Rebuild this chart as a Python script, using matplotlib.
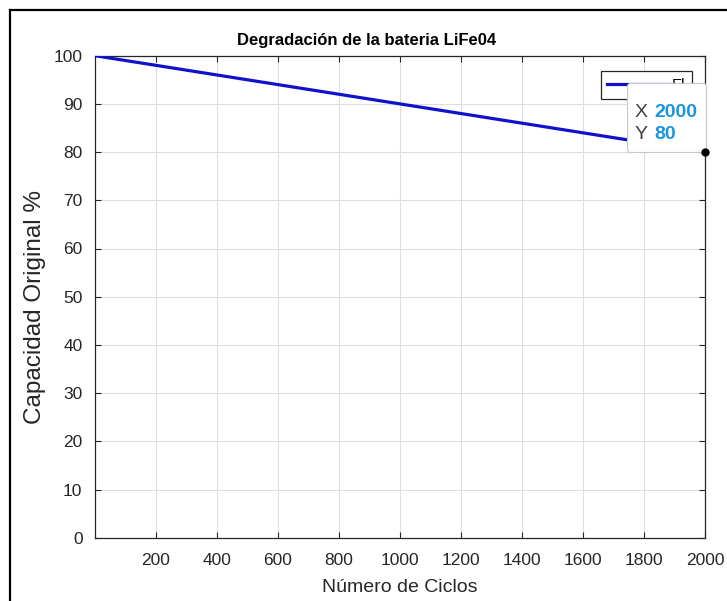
import matplotlib
matplotlib.use("Agg")
import matplotlib.pyplot as plt
from matplotlib.lines import Line2D
from matplotlib.offsetbox import TextArea, HPacker, VPacker, DrawingArea, AnnotationBbox

plt.rcParams["font.family"] = ["Liberation Sans", "DejaVu Sans"]

# data: linear capacity fade from 100 % to 80 % over 2000 cycles
ciclos = [1, 2000]
capacidad = [100, 80]
x_ticks = [200, 400, 600, 800, 1000, 1200, 1400, 1600, 1800, 2000]
y_ticks = [0, 10, 20, 30, 40, 50, 60, 70, 80, 90, 100]
serie_label = "El"

TXT = "#262626"

fig = plt.figure(figsize=(7.27, 6.01), dpi=100)
ax = fig.add_axes([95 / 727, 1 - 537.7 / 601, 610 / 727, 482 / 601])

ax.plot(ciclos, capacidad, color="#1111cc", linewidth=2.3, label=serie_label, zorder=3)

ax.set_xlim(ciclos[0], ciclos[-1])
ax.set_ylim(0, 100)
ax.set_xticks(x_ticks)
ax.set_yticks(y_ticks)
ax.grid(True, color="#dedede", linewidth=0.8)
ax.set_axisbelow(True)
ax.tick_params(direction="in", length=4, width=0.8, colors=TXT, labelsize=12.5,
               top=True, right=True)
ax.tick_params(axis="x", pad=11)
ax.tick_params(axis="y", pad=9)
for s in ax.spines.values():
    s.set_color(TXT)
    s.set_linewidth(0.9)

ax.set_title("Degradación de la bateria LiFe04", fontsize=12, fontweight="bold",
             color="black", x=0.446, pad=8)
ax.set_xlabel("Número de Ciclos", fontsize=14, color=TXT)
ax.set_ylabel("Capacidad Original %", fontsize=17.5, color=TXT)
ax.xaxis.set_label_coords(0.5, -0.086)
ax.yaxis.set_label_coords(-0.08, 0.478)

leg = ax.legend(loc="upper right", bbox_to_anchor=(692 / 727, 1 - 71 / 601),
                bbox_transform=fig.transFigure, borderaxespad=0, fancybox=False,
                edgecolor=TXT, fontsize=11, handlelength=4.0, handletextpad=0.2,
                borderpad=0.45, framealpha=1)
leg.get_frame().set_linewidth(0.9)
leg.set_zorder(5)

# datatip at the last point
def row(name, val):
    return HPacker(children=[
        TextArea(name, textprops=dict(color="#404040", fontsize=14)),
        TextArea(str(val), textprops=dict(color="#1a96e0", fontsize=14, fontweight="bold")),
    ], sep=5, pad=0, align="baseline")

tip_pad = 7  # points around the text block
tip = VPacker(children=[DrawingArea(1, 5), row("X", ciclos[-1]), row("Y", capacidad[-1])],
              sep=4, pad=3, align="left")
ab = AnnotationBbox(tip, (ciclos[-1], capacidad[-1]), xybox=(-2.2, 3.4),
                    boxcoords="offset points", box_alignment=(1, 0), pad=tip_pad / 12,
                    frameon=True,
                    bboxprops=dict(boxstyle="round,rounding_size=0.25", fc="white",
                                   ec="#c8c8c8", lw=0.8))
ab.set_zorder(10)
ax.add_artist(ab)
ax.plot(ciclos[-1], capacidad[-1], "o", color="black", markersize=5, clip_on=False, zorder=11)

# frame lines of the figure window
fig.add_artist(Line2D([10 / 727, 10 / 727], [0, 1 - 10 / 601], color="black", linewidth=1.6))
fig.add_artist(Line2D([10 / 727, 1], [1 - 10 / 601, 1 - 10 / 601], color="black", linewidth=1.6))

fig.savefig("out.png", dpi=100)
